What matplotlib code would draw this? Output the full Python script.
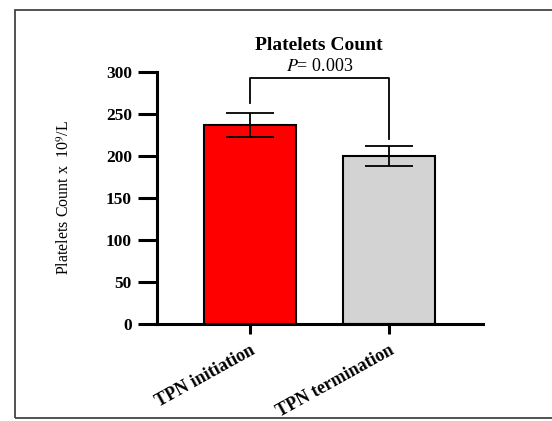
import matplotlib
matplotlib.use("Agg")
import matplotlib.pyplot as plt
import matplotlib.transforms as mtransforms
from matplotlib.patches import Rectangle

# data
groups = ["TPN initiation", "TPN termination"]
means = [237, 200]
errors = [14, 12]
bar_colors = ["#ff0000", "#d3d3d3"]
p_text = "= 0.003"
yticks = [0, 50, 100, 150, 200, 250, 300]

plt.rcParams["font.family"] = ["Liberation Serif", "DejaVu Serif"]
plt.rcParams["mathtext.fontset"] = "stix"

fig = plt.figure(figsize=(5.52, 4.21), dpi=100)
ax = fig.add_axes([0.2844, 0.2304, 0.5906, 0.5986])

x = [0, 1]
ax.bar(x, means, width=0.655, color=bar_colors, edgecolor="black", linewidth=1.5, zorder=2)
ax.errorbar(x, means, yerr=errors, fmt="none", ecolor="black", elinewidth=1.3,
            capsize=17, capthick=1.3, zorder=3)

# significance bracket
ax.plot([0, 0, 1, 1], [263, 293, 293, 220], color="black", lw=1.3, clip_on=False)
ax.text(0.5, 296, "$\\it{P}$" + p_text, ha="center", va="bottom", fontsize=13)

ax.set_xlim(-0.669, 1.676)
ax.set_ylim(0, 300)
ax.set_yticks(yticks)
ax.set_yticklabels([str(t) for t in yticks], fontsize=12.5, fontweight="heavy")
ax.set_xticks(x)
ax.set_xticklabels(groups, rotation=29, ha="right", rotation_mode="anchor",
                   fontsize=13, fontweight="bold")
shift = mtransforms.ScaledTranslation(18 / 100, -4 / 100, fig.dpi_scale_trans)
for lab in ax.get_xticklabels():
    lab.set_transform(lab.get_transform() + shift)
ax.tick_params(axis="y", length=14, width=2.2, pad=4)
ax.tick_params(axis="x", length=7, width=2.2, pad=6)

for s in ["top", "right"]:
    ax.spines[s].set_visible(False)
for s in ["left", "bottom"]:
    ax.spines[s].set_linewidth(2.2)

ax.set_ylabel("Platelets Count x  10$^9$/L", fontsize=11.5, labelpad=24)
fig.text(0.578, 0.893, "Platelets Count", ha="center", va="center",
         fontsize=14, fontweight="bold")

# outer frame
fig.patches.append(Rectangle((15 / 552, 3 / 421), 540 / 552, 408 / 421,
                             transform=fig.transFigure, fill=False,
                             edgecolor="#444444", lw=1.3))

fig.savefig("out.png", dpi=100)
